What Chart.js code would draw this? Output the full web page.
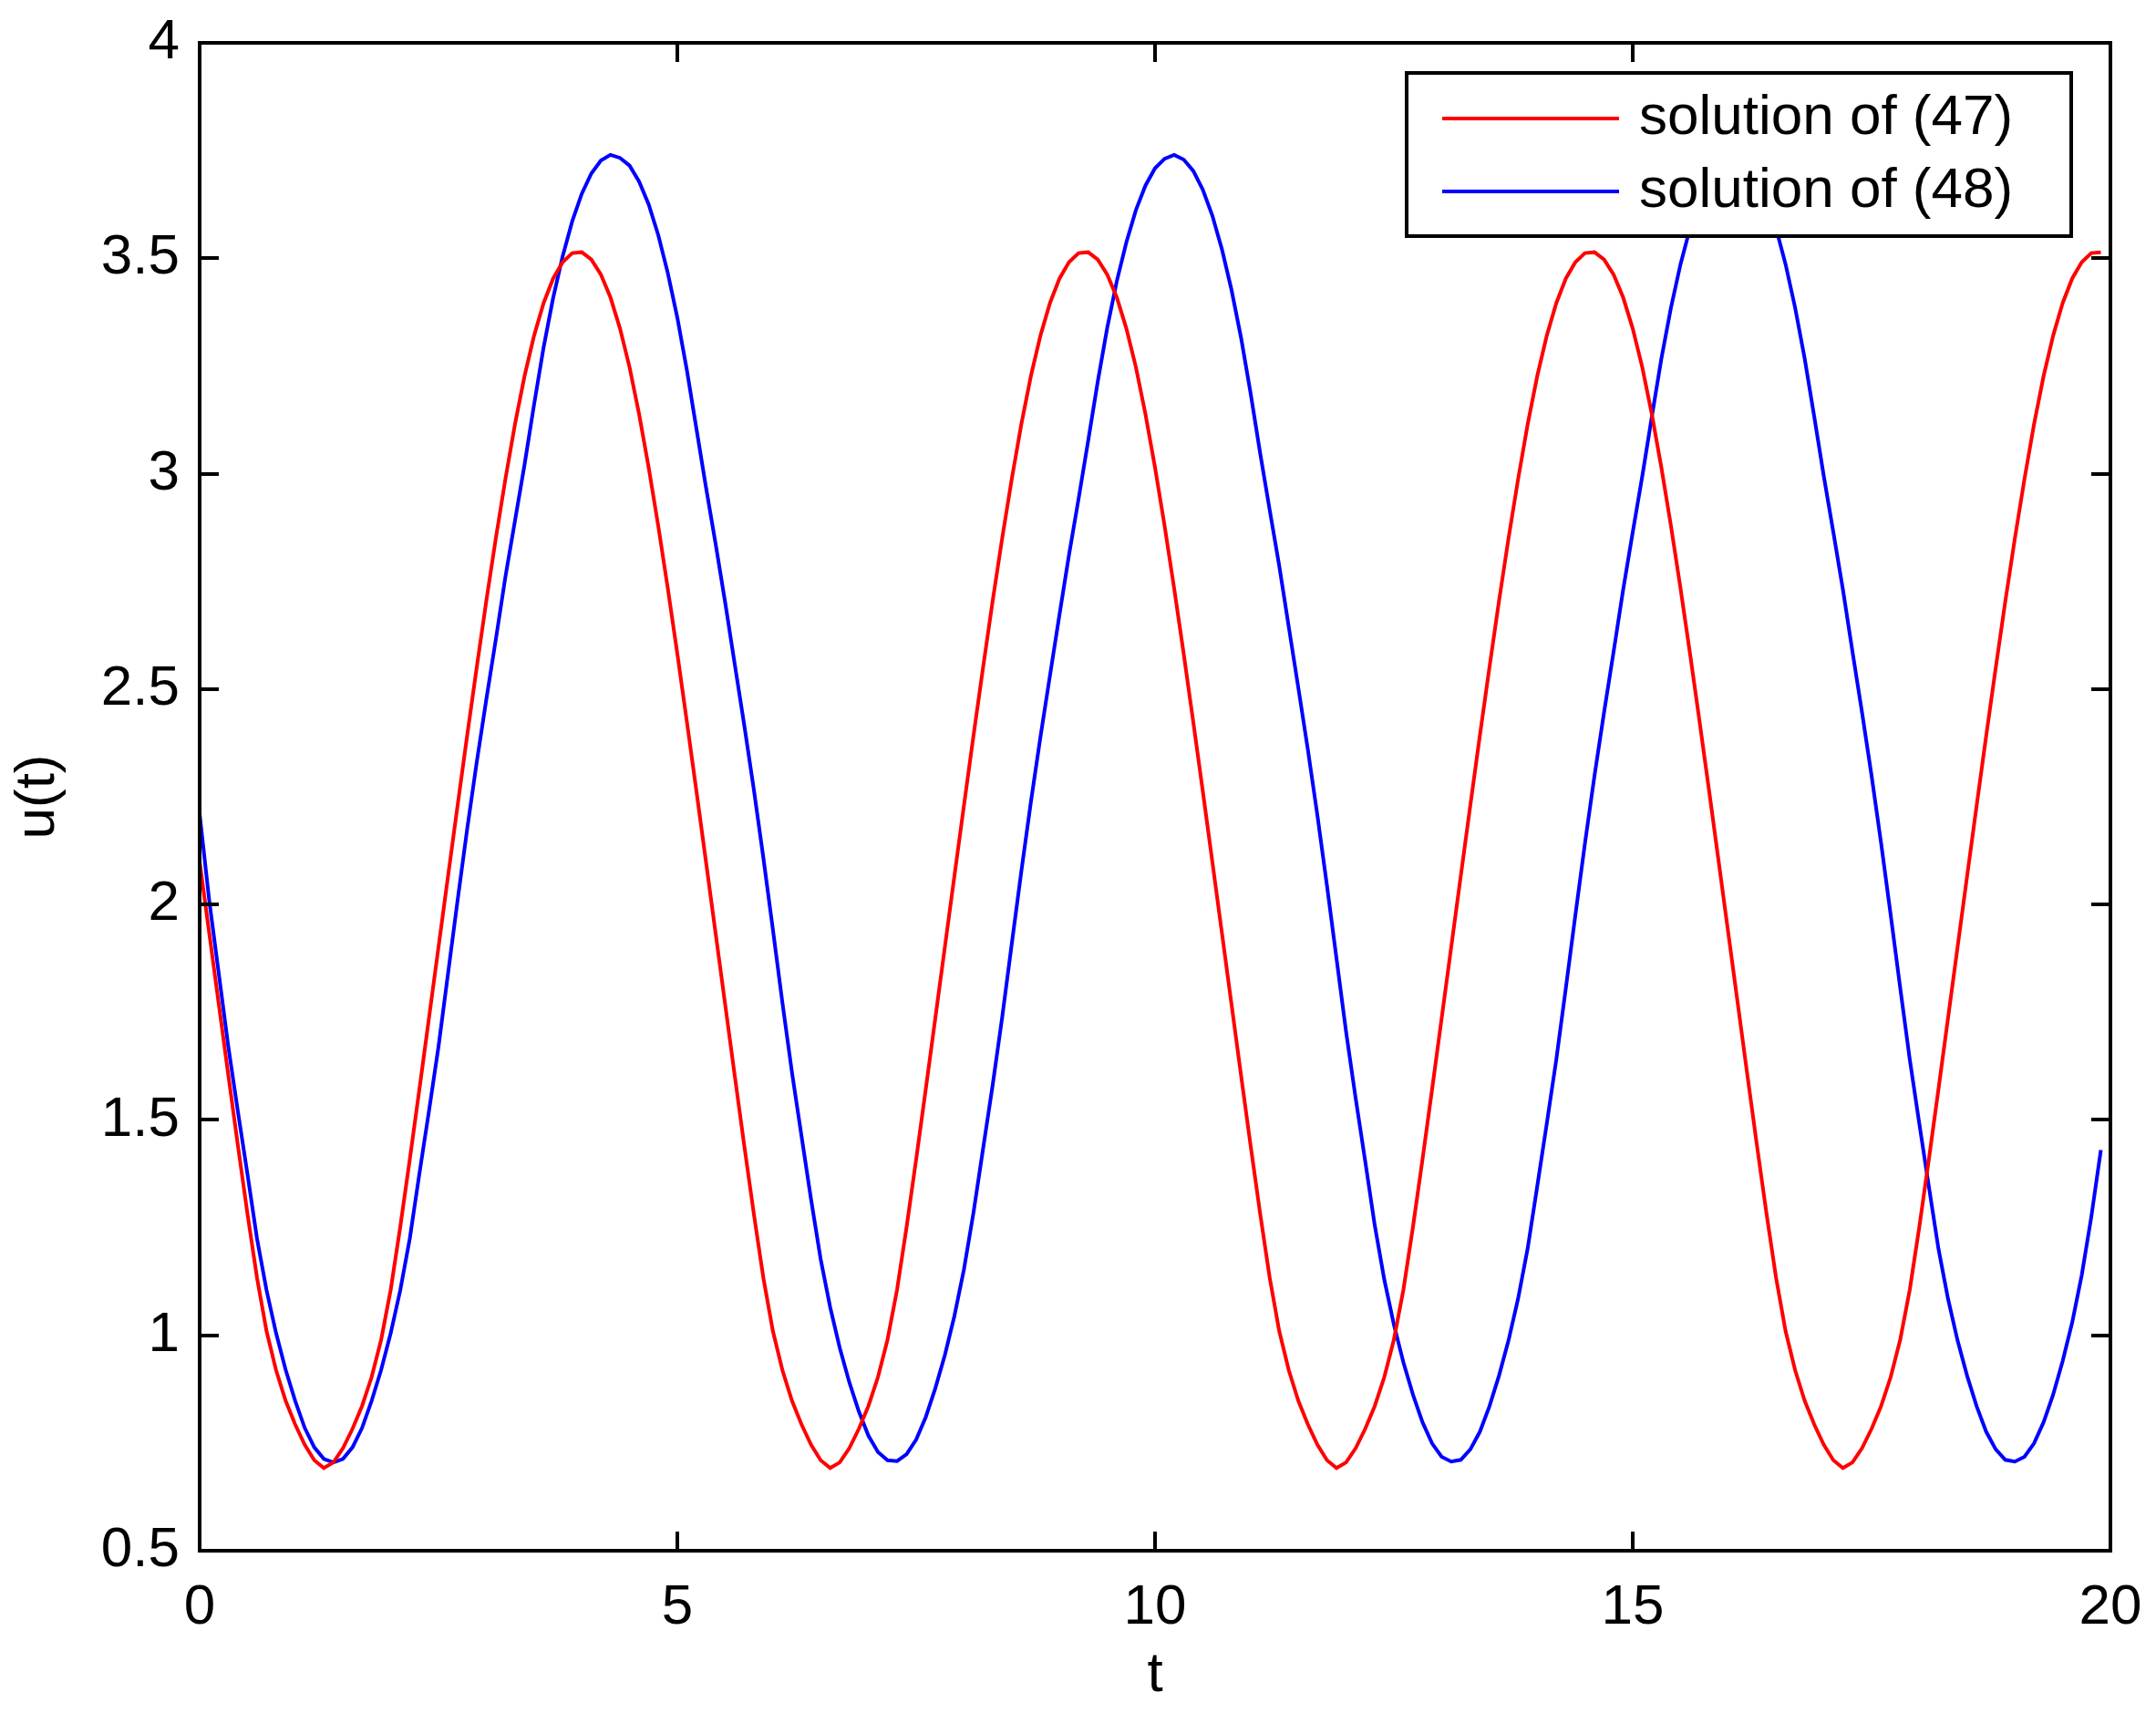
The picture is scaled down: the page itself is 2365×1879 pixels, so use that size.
<!DOCTYPE html>
<html>
<head>
<meta charset="utf-8">
<title>u(t)</title>
<script src="https://cdn.jsdelivr.net/npm/chart.js@4.4.1/dist/chart.umd.min.js"></script>
<style>
  html, body { margin: 0; padding: 0; background: #fff; }
  #plot { display: block; }
</style>
</head>
<body>
<canvas id="plot" width="2365" height="1879"></canvas>
<script>
// sampling of the solutions: t = 0, 0.1, ..., 19.9
const T_START = 0;
const T_STEP = 0.1;

// solution of (47)
const sol47 = [
  2.099, 1.934, 1.769, 1.604, 1.441, 1.283, 1.134, 1.010, 0.919, 0.848, 0.793, 0.746, 0.710, 0.692,
  0.705, 0.738, 0.783, 0.836, 0.903, 0.990, 1.106, 1.252, 1.409, 1.571, 1.736, 1.901, 2.066, 2.230,
  2.392, 2.550, 2.704, 2.850, 2.987, 3.114, 3.226, 3.320, 3.396, 3.453, 3.491, 3.512,
  3.514, 3.497, 3.462, 3.409, 3.337, 3.247, 3.138, 3.014, 2.879, 2.734, 2.582, 2.424, 2.263, 2.099,
  1.934, 1.769, 1.604, 1.441, 1.283, 1.134, 1.010, 0.919, 0.848, 0.793, 0.746, 0.710, 0.692,
  0.705, 0.738, 0.783, 0.836, 0.903, 0.990, 1.106, 1.252, 1.409, 1.571, 1.736, 1.901, 2.066, 2.230,
  2.392, 2.550, 2.704, 2.850, 2.987, 3.114, 3.226, 3.320, 3.396, 3.453, 3.491, 3.512,
  3.514, 3.497, 3.462, 3.409, 3.337, 3.247, 3.138, 3.014, 2.879, 2.734, 2.582, 2.424, 2.263, 2.099,
  1.934, 1.769, 1.604, 1.441, 1.283, 1.134, 1.010, 0.919, 0.848, 0.793, 0.746, 0.710, 0.692,
  0.705, 0.738, 0.783, 0.836, 0.903, 0.990, 1.106, 1.252, 1.409, 1.571, 1.736, 1.901, 2.066, 2.230,
  2.392, 2.550, 2.704, 2.850, 2.987, 3.114, 3.226, 3.320, 3.396, 3.453, 3.491, 3.512,
  3.514, 3.497, 3.462, 3.409, 3.337, 3.247, 3.138, 3.014, 2.879, 2.734, 2.582, 2.424, 2.263, 2.099,
  1.934, 1.769, 1.604, 1.441, 1.283, 1.134, 1.010, 0.919, 0.848, 0.793, 0.746, 0.710, 0.692,
  0.705, 0.738, 0.783, 0.836, 0.903, 0.990, 1.106, 1.252, 1.409, 1.571, 1.736, 1.901, 2.066, 2.230,
  2.392, 2.550, 2.704, 2.850, 2.987, 3.114, 3.226, 3.320, 3.396, 3.453, 3.491, 3.512,
  3.514
];

// solution of (48)
const sol48 = [
  2.210, 2.010, 1.840, 1.670, 1.520, 1.375, 1.225, 1.105, 1.005, 0.920,
  0.848, 0.785, 0.740, 0.713, 0.705, 0.713, 0.740, 0.785, 0.848, 0.920,
  1.005, 1.105, 1.225, 1.375, 1.520, 1.670, 1.840, 2.010, 2.175, 2.330,
  2.475, 2.615, 2.760, 2.890, 3.020, 3.160, 3.293, 3.408, 3.505, 3.586,
  3.650, 3.697, 3.727, 3.740, 3.733, 3.715, 3.678, 3.625, 3.554, 3.466,
  3.362, 3.240, 3.104, 2.968, 2.838, 2.702, 2.559, 2.417, 2.268, 2.109,
  1.942, 1.772, 1.610, 1.462, 1.315, 1.177, 1.065, 0.971, 0.891, 0.823,
  0.767, 0.729, 0.710, 0.708, 0.724, 0.758, 0.810, 0.877, 0.954, 1.045,
  1.153, 1.285, 1.433, 1.580, 1.738, 1.908, 2.076, 2.237, 2.388, 2.531,
  2.673, 2.812, 2.942, 3.076, 3.213, 3.339, 3.447, 3.537, 3.612, 3.669,
  3.709, 3.731, 3.740, 3.729, 3.703, 3.659, 3.599, 3.521, 3.427, 3.316,
  3.187, 3.048, 2.916, 2.786, 2.644, 2.503, 2.359, 2.206, 2.043, 1.874,
  1.704, 1.550, 1.404, 1.255, 1.129, 1.025, 0.937, 0.862, 0.798, 0.749,
  0.718, 0.707, 0.711, 0.735, 0.776, 0.835, 0.906, 0.988, 1.085, 1.201,
  1.345, 1.491, 1.640, 1.806, 1.976, 2.142, 2.299, 2.446, 2.587, 2.731,
  2.864, 2.994, 3.132, 3.267, 3.385, 3.486, 3.570, 3.637, 3.688, 3.721,
  3.736, 3.736, 3.721, 3.688, 3.637, 3.570, 3.486, 3.385, 3.267, 3.132,
  2.994, 2.864, 2.731, 2.587, 2.446, 2.299, 2.142, 1.976, 1.806, 1.640,
  1.491, 1.345, 1.201, 1.085, 0.988, 0.906, 0.835, 0.776, 0.735, 0.711,
  0.707, 0.718, 0.749, 0.798, 0.862, 0.940, 1.030, 1.140, 1.275, 1.430
];

const seriesLabels = ['solution of (47)', 'solution of (48)'];
const seriesColors = ['#ff0000', '#0000ff'];

const xRange = [0, 20];
const xStep = 5;
const yRange = [0.5, 4];
const yStep = 0.5;

const xTitle = 't';
const yTitle = 'u(t)';

const FONT = '"Liberation Sans", Arial, Helvetica, sans-serif';
const TICK_LEN = 21;

// turn a sampled series into {x, y} points
function toPoints(values) {
    return values.map((v, i) => ({ x: +(T_START + i * T_STEP).toFixed(2), y: v }));
}

// MATLAB style box with inward ticks on all sides, plus the legend inside the axes
const matlabBox = {
    id: 'matlabBox',
    afterDraw(chart) {
        const { ctx, chartArea: a, scales } = chart;
        const xs = scales.x;
        const ys = scales.y;
        ctx.save();
        ctx.strokeStyle = '#000';
        ctx.lineWidth = 4;
        ctx.beginPath();
        xs.ticks.forEach(t => {
            const px = Math.round(xs.getPixelForValue(t.value));
            ctx.moveTo(px, a.bottom);
            ctx.lineTo(px, a.bottom - TICK_LEN);
            ctx.moveTo(px, a.top);
            ctx.lineTo(px, a.top + TICK_LEN);
        });
        ys.ticks.forEach(t => {
            const py = Math.round(ys.getPixelForValue(t.value));
            ctx.moveTo(a.left, py);
            ctx.lineTo(a.left + TICK_LEN, py);
            ctx.moveTo(a.right, py);
            ctx.lineTo(a.right - TICK_LEN, py);
        });
        ctx.stroke();
        ctx.strokeRect(a.left, a.top, a.right - a.left, a.bottom - a.top);

        // legend box
        const boxRight = a.right - 43;
        const boxTop = a.top + 33;
        const boxW = 729;
        const boxH = 179;
        const boxLeft = boxRight - boxW;
        ctx.fillStyle = '#fff';
        ctx.fillRect(boxLeft, boxTop, boxW, boxH);
        ctx.lineWidth = 4;
        ctx.strokeRect(boxLeft, boxTop, boxW, boxH);
        ctx.font = '62px ' + FONT;
        ctx.textBaseline = 'middle';
        ctx.textAlign = 'left';
        chart.data.datasets.forEach((ds, i) => {
            const ly = boxTop + 50 + i * 80;
            ctx.strokeStyle = ds.borderColor;
            ctx.lineWidth = 4;
            ctx.beginPath();
            ctx.moveTo(boxLeft + 39, ly);
            ctx.lineTo(boxLeft + 233, ly);
            ctx.stroke();
            ctx.fillStyle = '#000';
            ctx.fillText(ds.label, boxLeft + 255, ly);
        });
        ctx.restore();
    }
};

const datasets = [sol47, sol48].map((vals, i) => ({
    label: seriesLabels[i],
    data: toPoints(vals),
    borderColor: seriesColors[i],
    backgroundColor: seriesColors[i],
    borderWidth: 4,
    pointRadius: 0,
    tension: 0,
    fill: false
}));

const chart = new Chart(document.getElementById('plot').getContext('2d'), {
    type: 'line',
    data: { datasets: datasets },
    options: {
        responsive: false,
        animation: false,
        devicePixelRatio: 1,
        events: [],
        layout: { padding: { top: 47, right: 50, left: 0, bottom: 0 } },
        plugins: {
            legend: { display: false },
            tooltip: { enabled: false }
        },
        scales: {
            x: {
                type: 'linear',
                min: xRange[0],
                max: xRange[1],
                grid: { display: false, drawTicks: false },
                border: { display: false },
                ticks: {
                    stepSize: xStep,
                    color: '#000',
                    padding: 26,
                    maxRotation: 0,
                    font: { family: FONT, size: 62 },
                    callback: v => String(v)
                },
                title: {
                    display: true,
                    text: xTitle,
                    color: '#000',
                    font: { family: FONT, size: 62 },
                    padding: { top: 0, bottom: 4 }
                },
                afterFit(scale) {
                    scale.height = 178;
                    scale.paddingLeft = 0;
                    scale.paddingRight = 0;
                }
            },
            y: {
                type: 'linear',
                min: yRange[0],
                max: yRange[1],
                grid: { display: false, drawTicks: false },
                border: { display: false },
                ticks: {
                    stepSize: yStep,
                    color: '#000',
                    padding: 22,
                    font: { family: FONT, size: 62 },
                    callback: v => String(v)
                },
                title: {
                    display: true,
                    text: yTitle,
                    color: '#000',
                    font: { family: FONT, size: 62 },
                    padding: { top: 5, bottom: 0 }
                },
                afterFit(scale) {
                    scale.width = 219;
                    scale.paddingTop = 0;
                    scale.paddingBottom = 0;
                }
            }
        }
    },
    plugins: [matlabBox]
});
</script>
</body>
</html>
